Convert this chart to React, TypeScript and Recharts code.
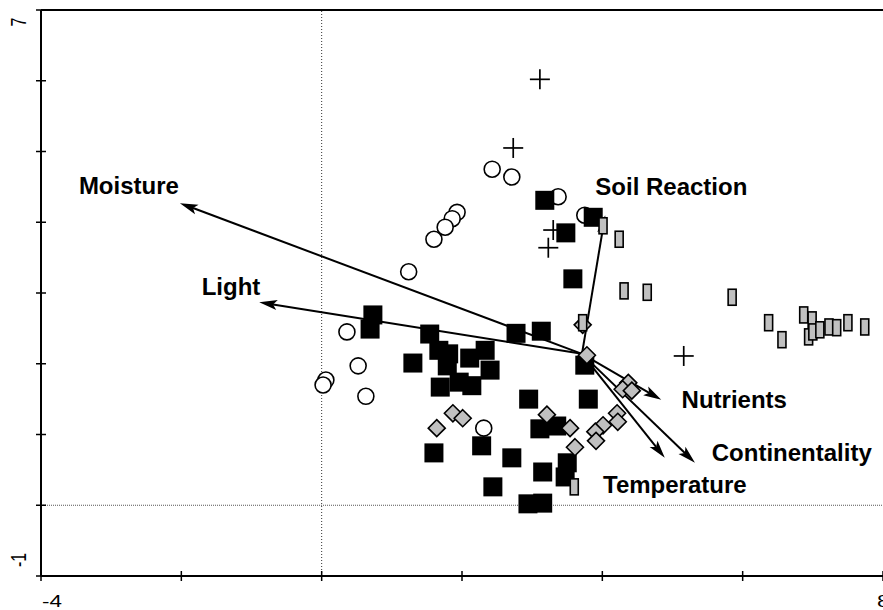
import React from 'react';
import { ScatterChart, Scatter, XAxis, YAxis, ReferenceLine } from 'recharts';

type Pt = { x: number; y: number };

const xTicks = [-4, -2, 0, 2, 4, 6, 8];
const yTicks = [-1, 0, 1, 2, 3, 4, 5, 6, 7];
const xTickLabels: Record<string, string> = { '-4': '-4', '8': '8' };
const yTickLabels: Record<string, string> = { '-1': '-1', '7': '7' };

const circles: Pt[] = [
  { x: 2.43, y: 4.75 }, { x: 2.71, y: 4.64 }, { x: 3.37, y: 4.36 }, { x: 3.75, y: 4.1 },
  { x: 1.93, y: 4.14 }, { x: 1.86, y: 4.05 }, { x: 1.76, y: 3.93 }, { x: 1.6, y: 3.76 },
  { x: 1.24, y: 3.3 }, { x: 0.36, y: 2.45 }, { x: 0.52, y: 1.97 }, { x: 0.63, y: 1.54 },
  { x: 0.06, y: 1.77 }, { x: 0.02, y: 1.7 }, { x: 2.31, y: 1.09 },
];

const squares: Pt[] = [
  { x: 3.18, y: 4.31 }, { x: 3.87, y: 4.07 }, { x: 3.48, y: 3.85 }, { x: 3.58, y: 3.2 },
  { x: 0.73, y: 2.69 }, { x: 0.69, y: 2.49 }, { x: 1.54, y: 2.42 }, { x: 2.77, y: 2.43 },
  { x: 3.13, y: 2.46 }, { x: 1.3, y: 2.01 }, { x: 1.67, y: 2.19 }, { x: 1.81, y: 2.14 },
  { x: 1.79, y: 1.97 }, { x: 1.69, y: 1.67 }, { x: 1.96, y: 1.74 }, { x: 2.14, y: 1.69 },
  { x: 2.11, y: 2.08 }, { x: 2.33, y: 2.19 }, { x: 2.4, y: 1.91 }, { x: 3.75, y: 1.98 },
  { x: 2.95, y: 1.5 }, { x: 3.8, y: 1.5 }, { x: 3.11, y: 1.08 }, { x: 3.35, y: 1.12 },
  { x: 3.5, y: 0.6 }, { x: 3.47, y: 0.4 }, { x: 3.15, y: 0.47 }, { x: 2.71, y: 0.67 },
  { x: 2.28, y: 0.84 }, { x: 1.6, y: 0.74 }, { x: 2.44, y: 0.26 }, { x: 2.94, y: 0.02 },
  { x: 3.15, y: 0.03 },
];

const diamonds: Pt[] = [
  { x: 3.72, y: 2.55 }, { x: 3.78, y: 2.12 }, { x: 1.64, y: 1.09 }, { x: 1.87, y: 1.3 },
  { x: 2.01, y: 1.23 }, { x: 3.21, y: 1.28 }, { x: 3.54, y: 1.09 }, { x: 3.61, y: 0.82 },
  { x: 4.37, y: 1.73 }, { x: 4.29, y: 1.64 }, { x: 4.42, y: 1.62 }, { x: 4.21, y: 1.3 },
  { x: 4.22, y: 1.18 }, { x: 4.01, y: 1.13 }, { x: 3.9, y: 1.04 }, { x: 3.91, y: 0.91 },
];

const bars: Pt[] = [
  { x: 4.01, y: 3.95 }, { x: 4.24, y: 3.76 }, { x: 4.31, y: 3.03 }, { x: 4.64, y: 3.01 },
  { x: 5.85, y: 2.94 }, { x: 6.37, y: 2.58 }, { x: 6.56, y: 2.34 }, { x: 6.87, y: 2.69 },
  { x: 6.99, y: 2.62 }, { x: 6.94, y: 2.38 }, { x: 7.0, y: 2.45 }, { x: 7.1, y: 2.48 },
  { x: 7.23, y: 2.52 }, { x: 7.34, y: 2.51 }, { x: 7.5, y: 2.58 }, { x: 7.74, y: 2.52 },
  { x: 3.72, y: 2.58 }, { x: 3.6, y: 0.26 },
];

const crosses: Pt[] = [
  { x: 3.11, y: 6.02 }, { x: 2.73, y: 5.05 }, { x: 3.3, y: 3.89 }, { x: 3.23, y: 3.64 },
  { x: 5.16, y: 2.11 },
];

const arrowOrigin: Pt = { x: 3.71, y: 2.14 };
const arrowNames = ['Moisture', 'Light', 'Soil Reaction', 'Nutrients', 'Continentality', 'Temperature'];
const arrowTipX = [-2.02, -0.89, 4.04, 4.84, 5.32, 4.89];
const arrowTipY = [4.27, 2.87, 4.1, 1.49, 0.6, 0.67];
const labelX = [-3.46, -1.71, 3.9, 5.13, 5.56, 4.01];
const labelY = [4.4, 2.97, 4.39, 1.37, 0.63, 0.17];

const labelData = arrowNames.map((name, i) => ({ name, x: labelX[i], y: labelY[i] }));

const FONT = '"Liberation Sans", Arial, Helvetica, sans-serif';
const GRAY = '#c0c0c0';
const TICK_STRETCH = 1.4;

const XTick = (props: any) => {
  const { x, y, payload } = props;
  const v = payload.value;
  const label = xTickLabels[String(v)];
  const isFirst = v === xTicks[0];
  const tx = isFirst ? x + 1 : x - 6;
  const ty = y + 31;
  return (
    <g>
      <line x1={x} x2={x} y1={y - 5} y2={y + 5} stroke="#000" strokeWidth={1.5} />
      {label && (
        <text transform={`translate(${tx},${ty}) scale(${TICK_STRETCH},1)`} x={0} y={0}
          textAnchor="start" fontSize={16} fontFamily={FONT} fill="#000">{label}</text>
      )}
    </g>
  );
};

const YTick = (props: any) => {
  const { x, y, payload } = props;
  const v = payload.value;
  const label = yTickLabels[String(v)];
  const cx = x - 23;
  const cy = v === yTicks[yTicks.length - 1] ? y + 12 : y - 16;
  return (
    <g>
      <line x1={x - 5} x2={x + 5} y1={y} y2={y} stroke="#000" strokeWidth={1.5} />
      {label && (
        <text transform={`translate(${cx},${cy}) scale(${TICK_STRETCH},1) rotate(-90)`} x={0} y={0}
          textAnchor="middle" dominantBaseline="central" fontSize={16} fontFamily={FONT} fill="#000">
          {label}
        </text>
      )}
    </g>
  );
};

const CircleShape = (p: any) => (
  <circle cx={p.cx} cy={p.cy} r={8} fill="#fff" stroke="#000" strokeWidth={1.6} />
);
const SquareShape = (p: any) => (
  <rect x={p.cx - 9.5} y={p.cy - 9.5} width={19} height={19} fill="#000" />
);
const DiamondShape = (p: any) => {
  const r = 8.5;
  return (
    <polygon
      points={`${p.cx},${p.cy - r} ${p.cx + r},${p.cy} ${p.cx},${p.cy + r} ${p.cx - r},${p.cy}`}
      fill={GRAY} stroke="#000" strokeWidth={1.6} />
  );
};
const BarShape = (p: any) => (
  <rect x={p.cx - 4} y={p.cy - 8} width={8} height={16} fill={GRAY} stroke="#000" strokeWidth={1.6} />
);
const CrossShape = (p: any) => (
  <g stroke="#000" strokeWidth={1.7}>
    <line x1={p.cx - 10} x2={p.cx + 10} y1={p.cy} y2={p.cy} />
    <line x1={p.cx} x2={p.cx} y1={p.cy - 10} y2={p.cy + 10} />
  </g>
);
const LabelShape = (p: any) => (
  <text x={p.cx} y={p.cy} fontSize={24} fontWeight="bold" fontFamily={FONT} fill="#000">
    {p.payload.name}
  </text>
);

const ArrowShape = (p: any) => {
  const { x1, y1, x2, y2 } = p;
  const ang = Math.atan2(y2 - y1, x2 - x1);
  const c = Math.cos(ang);
  const s = Math.sin(ang);
  const L = 18;
  const W = 5;
  const bx = x2 - L * c;
  const by = y2 - L * s;
  const nx = x2 - (L - 4) * c;
  const ny = y2 - (L - 4) * s;
  return (
    <g>
      <line x1={x1} y1={y1} x2={nx} y2={ny} stroke="#000" strokeWidth={2} />
      <polygon
        points={`${x2},${y2} ${bx - W * s},${by + W * c} ${nx},${ny} ${bx + W * s},${by - W * c}`}
        fill="#000" />
    </g>
  );
};

export default function App() {
  return (
    <div style={{ position: 'absolute', left: 0, top: 0, width: 883, height: 610, background: '#fff' }}>
      <ScatterChart width={883} height={610} margin={{ top: 10, right: 0, bottom: 0, left: 0 }}>
        <XAxis type="number" dataKey="x" domain={[-4, 8]} ticks={xTicks} interval={0}
          allowDataOverflow height={34} tickSize={0} tickMargin={0} tickLine={false}
          axisLine={{ stroke: '#000', strokeWidth: 2 }} tick={<XTick />} />
        <YAxis type="number" dataKey="y" domain={[-1, 7]} ticks={yTicks} interval={0}
          allowDataOverflow width={41} tickSize={0} tickMargin={0} tickLine={false}
          axisLine={{ stroke: '#000', strokeWidth: 2 }} tick={<YTick />} />
        <ReferenceLine x={0} stroke="#333" strokeWidth={1} strokeDasharray="1 2" />
        <ReferenceLine y={0} stroke="#555" strokeWidth={1} strokeDasharray="1 1" />
        <ReferenceLine y={7} stroke="#000" strokeWidth={2} />
        <Scatter data={crosses} shape={CrossShape} isAnimationActive={false} />
        <Scatter data={circles} shape={CircleShape} isAnimationActive={false} />
        <Scatter data={squares} shape={SquareShape} isAnimationActive={false} />
        <Scatter data={diamonds} shape={DiamondShape} isAnimationActive={false} />
        <Scatter data={bars} shape={BarShape} isAnimationActive={false} />
        {arrowNames.map((n, i) => (
          <ReferenceLine key={n}
            segment={[{ x: arrowOrigin.x, y: arrowOrigin.y }, { x: arrowTipX[i], y: arrowTipY[i] }]}
            shape={ArrowShape} stroke="#000" />
        ))}
        <Scatter data={labelData} shape={LabelShape} isAnimationActive={false} />
      </ScatterChart>
    </div>
  );
}
